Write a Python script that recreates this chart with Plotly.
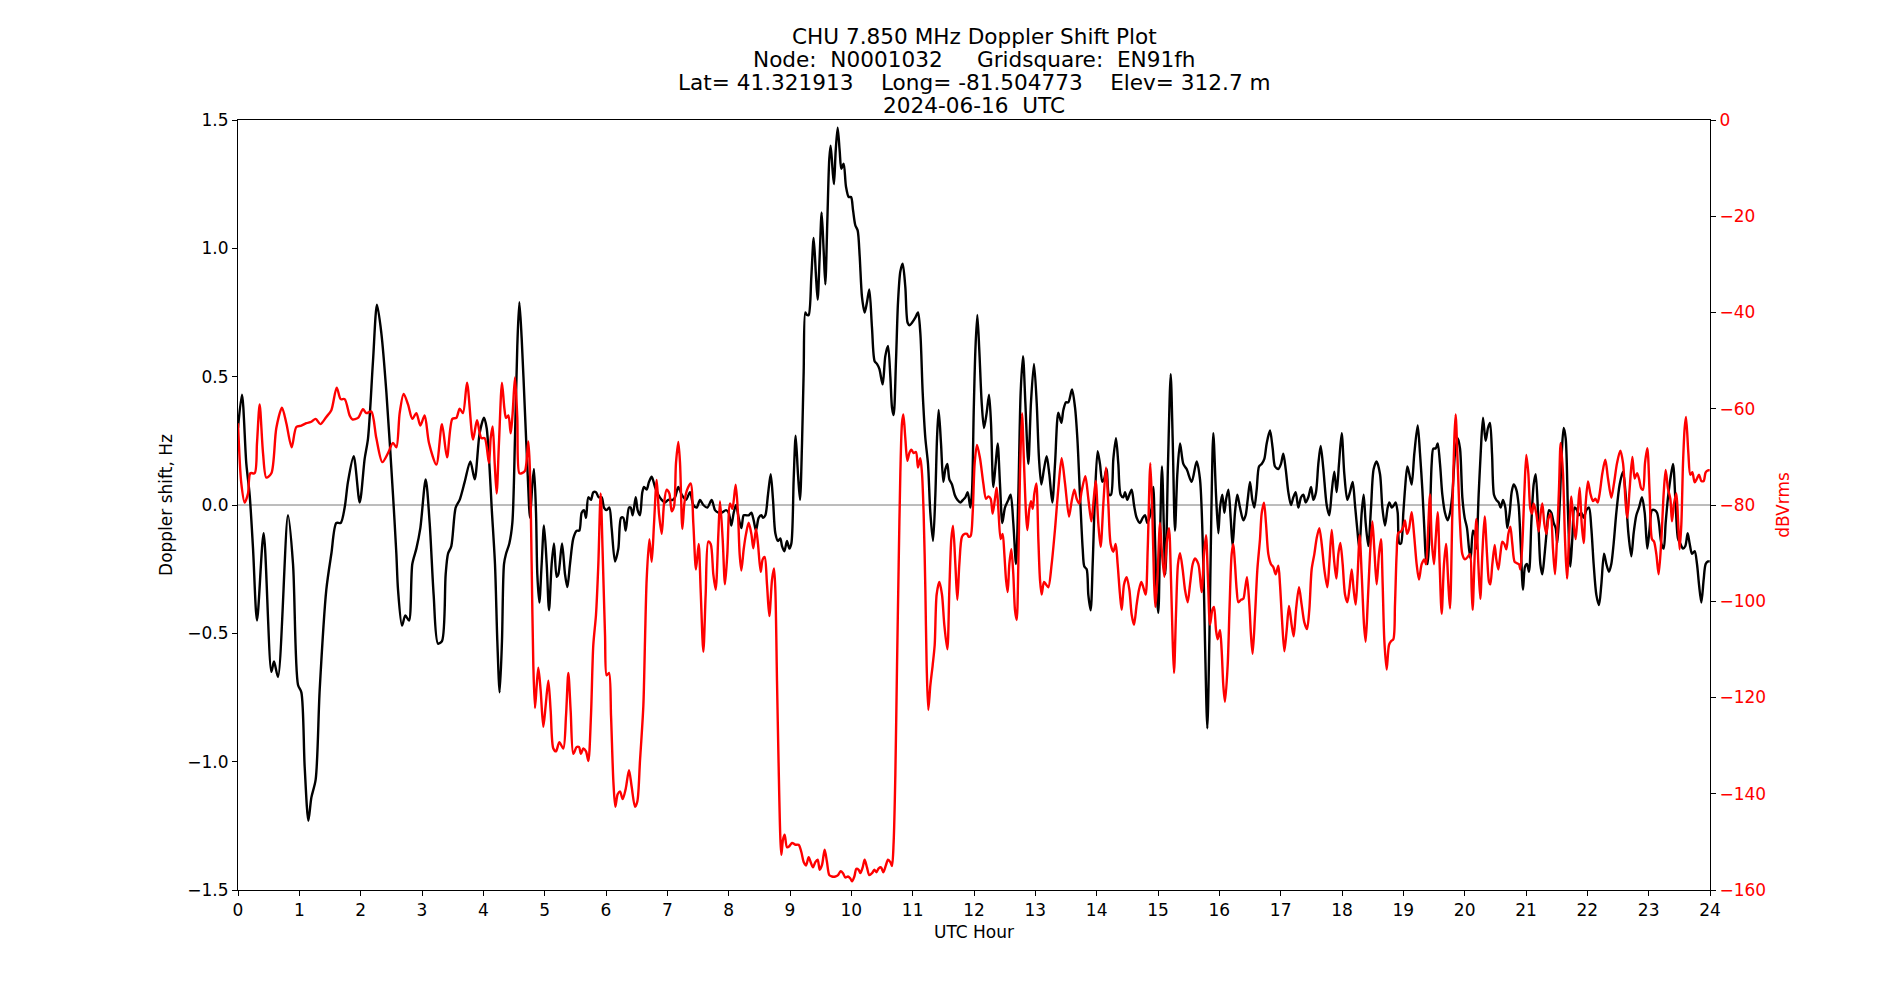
import plotly.graph_objects as go

# ---------------- data ----------------
hours_doppler = [
    0.000, 0.065, 0.136, 0.190, 0.245, 0.310, 0.418, 0.544, 0.587, 0.652,
    0.815, 0.897, 0.978, 1.033, 1.087, 1.147, 1.196, 1.266, 1.332, 1.440,
    1.522, 1.603, 1.674, 1.739, 1.793, 1.886, 1.984, 2.065, 2.120, 2.201,
    2.266, 2.337, 2.419, 2.527, 2.582, 2.609, 2.674, 2.728, 2.788, 2.842,
    2.908, 2.973, 3.060, 3.125, 3.190, 3.261, 3.326, 3.386, 3.424, 3.478,
    3.549, 3.614, 3.696, 3.788, 3.859, 3.940, 4.011, 4.054, 4.098, 4.136,
    4.190, 4.228, 4.266, 4.304, 4.337, 4.370, 4.424, 4.473, 4.516, 4.554,
    4.587, 4.625, 4.679, 4.723, 4.761, 4.799, 4.826, 4.859, 4.880, 4.913,
    4.951, 4.989, 5.033, 5.071, 5.114, 5.152, 5.196, 5.223, 5.283, 5.332,
    5.370, 5.413, 5.467, 5.522, 5.565, 5.603, 5.641, 5.674, 5.712, 5.755,
    5.793, 5.837, 5.880, 5.929, 5.967, 6.011, 6.054, 6.092, 6.147, 6.201,
    6.245, 6.283, 6.321, 6.375, 6.402, 6.435, 6.484, 6.516, 6.554, 6.592,
    6.620, 6.663, 6.701, 6.745, 6.799, 6.853, 6.908, 6.962, 7.016, 7.087,
    7.125, 7.179, 7.234, 7.304, 7.370, 7.424, 7.478, 7.533, 7.587, 7.652,
    7.723, 7.777, 7.832, 7.886, 7.957, 8.000, 8.043, 8.082, 8.120, 8.163,
    8.207, 8.245, 8.283, 8.326, 8.370, 8.408, 8.446, 8.489, 8.533, 8.560,
    8.598, 8.641, 8.685, 8.723, 8.761, 8.804, 8.842, 8.870, 8.908, 8.951,
    8.989, 9.022, 9.060, 9.092, 9.130, 9.163, 9.196, 9.223, 9.250, 9.277,
    9.304, 9.348, 9.386, 9.424, 9.451, 9.484, 9.516, 9.549, 9.576, 9.609,
    9.641, 9.663, 9.696, 9.717, 9.745, 9.777, 9.810, 9.837, 9.875, 9.913,
    9.957, 9.995, 10.027, 10.065, 10.103, 10.136, 10.174, 10.217, 10.255, 10.293,
    10.337, 10.380, 10.418, 10.457, 10.511, 10.554, 10.598, 10.636, 10.663, 10.690,
    10.728, 10.761, 10.799, 10.837, 10.880, 10.918, 10.951, 10.989, 11.043, 11.087,
    11.125, 11.163, 11.207, 11.250, 11.288, 11.332, 11.370, 11.397, 11.424, 11.462,
    11.500, 11.533, 11.565, 11.598, 11.641, 11.685, 11.728, 11.777, 11.821, 11.859,
    11.897, 11.940, 11.967, 11.995, 12.022, 12.054, 12.087, 12.125, 12.163, 12.207,
    12.245, 12.277, 12.315, 12.353, 12.386, 12.424, 12.462, 12.505, 12.560, 12.598,
    12.641, 12.685, 12.723, 12.761, 12.799, 12.837, 12.886, 12.929, 12.978, 13.022,
    13.060, 13.098, 13.141, 13.185, 13.228, 13.277, 13.321, 13.375, 13.424, 13.457,
    13.500, 13.538, 13.598, 13.647, 13.685, 13.728, 13.772, 13.799, 13.837, 13.864,
    13.902, 13.935, 13.973, 14.016, 14.054, 14.092, 14.120, 14.163, 14.201, 14.234,
    14.272, 14.315, 14.353, 14.391, 14.435, 14.462, 14.500, 14.533, 14.571, 14.609,
    14.652, 14.707, 14.750, 14.788, 14.826, 14.859, 14.897, 14.924, 14.951, 14.978,
    15.005, 15.033, 15.065, 15.120, 15.163, 15.207, 15.239, 15.277, 15.315, 15.359,
    15.413, 15.467, 15.549, 15.630, 15.685, 15.739, 15.766, 15.804, 15.837, 15.870,
    15.902, 15.946, 15.984, 16.011, 16.049, 16.082, 16.109, 16.147, 16.185, 16.217,
    16.255, 16.293, 16.337, 16.391, 16.429, 16.462, 16.500, 16.538, 16.571, 16.609,
    16.647, 16.690, 16.734, 16.772, 16.826, 16.870, 16.908, 16.962, 17.005, 17.043,
    17.082, 17.125, 17.168, 17.207, 17.245, 17.288, 17.332, 17.370, 17.408, 17.451,
    17.495, 17.533, 17.576, 17.614, 17.652, 17.696, 17.750, 17.793, 17.832, 17.875,
    17.913, 17.951, 17.995, 18.038, 18.087, 18.130, 18.174, 18.212, 18.255, 18.283,
    18.321, 18.353, 18.386, 18.429, 18.473, 18.516, 18.565, 18.620, 18.658, 18.701,
    18.745, 18.772, 18.810, 18.848, 18.875, 18.908, 18.935, 18.962, 19.000, 19.027,
    19.065, 19.098, 19.136, 19.179, 19.234, 19.272, 19.310, 19.342, 19.370, 19.397,
    19.435, 19.462, 19.489, 19.527, 19.560, 19.598, 19.636, 19.679, 19.723, 19.761,
    19.799, 19.842, 19.886, 19.924, 19.962, 20.000, 20.038, 20.071, 20.098, 20.136,
    20.163, 20.190, 20.228, 20.261, 20.299, 20.342, 20.380, 20.413, 20.446, 20.478,
    20.516, 20.554, 20.587, 20.625, 20.663, 20.696, 20.734, 20.766, 20.799, 20.842,
    20.880, 20.913, 20.951, 20.984, 21.016, 21.049, 21.087, 21.125, 21.158, 21.196,
    21.234, 21.266, 21.304, 21.342, 21.375, 21.413, 21.451, 21.484, 21.511, 21.549,
    21.582, 21.614, 21.647, 21.685, 21.723, 21.755, 21.793, 21.832, 21.864, 21.902,
    21.940, 21.984, 22.027, 22.065, 22.103, 22.147, 22.190, 22.228, 22.272, 22.310,
    22.353, 22.391, 22.429, 22.473, 22.527, 22.582, 22.625, 22.669, 22.717, 22.755,
    22.799, 22.842, 22.891, 22.935, 22.978, 23.016, 23.054, 23.098, 23.136, 23.168,
    23.207, 23.245, 23.277, 23.315, 23.353, 23.397, 23.440, 23.478, 23.516, 23.560,
    23.598, 23.636, 23.668, 23.707, 23.750, 23.788, 23.821, 23.859, 23.897, 23.929,
    23.967, 23.995,
]
doppler_hz = [
    0.30, 0.43, 0.16, 0.04, -0.17, -0.45, -0.11, -0.65, -0.61, -0.67,
    -0.04, -0.23, -0.70, -0.73, -1.02, -1.23, -1.14, -1.07, -0.72, -0.33,
    -0.19, -0.07, -0.07, -0.01, 0.09, 0.19, 0.01, 0.18, 0.26, 0.56,
    0.78, 0.67, 0.44, 0.04, -0.19, -0.33, -0.47, -0.43, -0.45, -0.23,
    -0.17, -0.09, 0.10, -0.07, -0.35, -0.54, -0.53, -0.27, -0.19, -0.16,
    -0.01, 0.02, 0.09, 0.17, 0.10, 0.28, 0.34, 0.30, 0.16, -0.01,
    -0.23, -0.53, -0.73, -0.53, -0.23, -0.19, -0.15, -0.07, 0.26, 0.62,
    0.79, 0.65, 0.36, 0.12, -0.05, 0.08, 0.14, -0.03, -0.27, -0.38,
    -0.23, -0.08, -0.23, -0.41, -0.23, -0.15, -0.28, -0.27, -0.15, -0.27,
    -0.32, -0.23, -0.13, -0.10, -0.10, -0.03, -0.02, -0.05, 0.03, 0.02,
    0.05, 0.05, 0.03, 0.03, -0.01, -0.02, -0.01, -0.09, -0.22, -0.17,
    -0.05, -0.05, -0.10, -0.01, -0.01, -0.04, 0.03, -0.02, -0.04, 0.05,
    0.07, 0.06, 0.09, 0.11, 0.07, 0.04, 0.02, 0.01, 0.02, 0.02,
    0.03, 0.07, 0.04, 0.02, 0.05, 0.00, -0.01, 0.02, 0.00, -0.01,
    0.02, -0.02, -0.03, -0.03, -0.02, -0.03, -0.08, -0.03, 0.00, -0.05,
    -0.09, -0.04, -0.04, -0.04, -0.03, -0.06, -0.10, -0.05, -0.04, -0.05,
    -0.04, 0.04, 0.12, 0.02, -0.11, -0.14, -0.13, -0.16, -0.18, -0.14,
    -0.17, -0.15, 0.10, 0.27, 0.12, 0.02, 0.24, 0.52, 0.75, 0.74,
    0.74, 0.89, 1.04, 0.89, 0.80, 0.97, 1.14, 0.99, 0.86, 1.11,
    1.35, 1.40, 1.30, 1.25, 1.38, 1.47, 1.38, 1.31, 1.33, 1.24,
    1.20, 1.20, 1.15, 1.09, 1.07, 0.97, 0.81, 0.75, 0.79, 0.84,
    0.69, 0.56, 0.55, 0.53, 0.47, 0.58, 0.62, 0.50, 0.38, 0.35,
    0.56, 0.79, 0.91, 0.94, 0.85, 0.71, 0.70, 0.71, 0.73, 0.75,
    0.67, 0.44, 0.26, 0.16, -0.03, -0.14, 0.04, 0.26, 0.37, 0.24,
    0.09, 0.14, 0.16, 0.10, 0.08, 0.04, 0.02, 0.01, 0.02, 0.03,
    0.05, -0.01, 0.05, 0.36, 0.60, 0.74, 0.60, 0.40, 0.30, 0.36,
    0.43, 0.32, 0.07, 0.16, 0.24, 0.08, -0.07, -0.01, 0.02, 0.04,
    -0.07, -0.23, 0.04, 0.44, 0.58, 0.40, 0.16, 0.40, 0.55, 0.40,
    0.18, 0.08, 0.14, 0.19, 0.12, 0.01, 0.16, 0.36, 0.32, 0.37,
    0.40, 0.40, 0.45, 0.38, 0.26, 0.04, -0.17, -0.24, -0.25, -0.35,
    -0.41, -0.23, 0.04, 0.21, 0.16, 0.09, 0.10, 0.14, 0.04, 0.04,
    0.18, 0.26, 0.16, 0.04, 0.03, 0.05, 0.02, 0.04, 0.06, 0.00,
    -0.05, -0.07, -0.05, -0.04, -0.07, -0.05, -0.01, 0.07, -0.13, -0.35,
    -0.42, -0.13, 0.15, -0.27, 0.16, 0.51, 0.26, -0.10, 0.12, 0.24,
    0.16, 0.14, 0.09, 0.17, 0.10, -0.23, -0.53, -0.87, -0.53, -0.03,
    0.28, 0.04, -0.11, -0.01, 0.04, -0.03, 0.02, 0.06, -0.05, -0.16,
    -0.03, 0.04, -0.01, -0.06, -0.04, 0.02, 0.09, 0.02, -0.01, 0.06,
    0.15, 0.16, 0.18, 0.24, 0.29, 0.22, 0.15, 0.14, 0.16, 0.20,
    0.14, 0.05, 0.00, 0.03, 0.05, -0.01, 0.03, 0.04, 0.01, 0.03,
    0.07, 0.02, 0.05, 0.16, 0.23, 0.14, 0.00, -0.04, 0.05, 0.13,
    0.05, 0.16, 0.28, 0.12, 0.02, 0.05, 0.09, 0.00, -0.11, -0.17,
    -0.03, 0.04, -0.07, -0.16, -0.01, 0.14, 0.17, 0.12, -0.01, -0.08,
    -0.01, 0.01, -0.01, 0.00, 0.01, -0.03, -0.15, -0.15, -0.03, 0.06,
    0.15, 0.12, 0.08, 0.20, 0.31, 0.20, 0.06, -0.09, -0.21, -0.23,
    -0.03, 0.16, 0.22, 0.22, 0.24, 0.16, 0.04, -0.03, -0.06, -0.03,
    0.04, 0.20, 0.26, 0.22, 0.03, -0.05, -0.09, -0.17, -0.21, -0.10,
    -0.11, -0.17, 0.04, 0.20, 0.34, 0.25, 0.30, 0.32, 0.20, 0.04,
    0.02, 0.01, -0.01, 0.02, -0.01, -0.09, -0.03, 0.05, 0.08, 0.06,
    0.00, -0.15, -0.33, -0.24, -0.23, -0.26, -0.07, 0.08, 0.12, -0.03,
    -0.23, -0.27, -0.19, -0.09, -0.02, -0.03, -0.07, -0.09, -0.15, 0.00,
    0.20, 0.30, 0.26, -0.03, -0.24, -0.13, -0.01, -0.02, -0.04, -0.03,
    -0.05, -0.02, -0.01, -0.09, -0.23, -0.35, -0.39, -0.31, -0.19, -0.23,
    -0.26, -0.23, -0.15, -0.03, 0.08, 0.13, 0.04, -0.11, -0.20, -0.11,
    -0.04, -0.01, 0.03, -0.03, -0.17, -0.09, -0.02, -0.02, -0.03, -0.07,
    -0.15, -0.17, -0.07, 0.03, 0.10, 0.16, 0.00, -0.13, -0.15, -0.17,
    -0.16, -0.11, -0.15, -0.19, -0.18, -0.23, -0.31, -0.38, -0.29, -0.23,
    -0.22, -0.22,
]

hours_power = [
    0.000, 0.054, 0.109, 0.163, 0.201, 0.272, 0.310, 0.353, 0.408, 0.462,
    0.544, 0.625, 0.717, 0.788, 0.875, 0.951, 1.033, 1.114, 1.196, 1.266,
    1.342, 1.440, 1.522, 1.609, 1.674, 1.739, 1.821, 1.864, 1.957, 2.038,
    2.092, 2.174, 2.255, 2.353, 2.446, 2.527, 2.582, 2.636, 2.701, 2.772,
    2.842, 2.908, 2.973, 3.043, 3.114, 3.234, 3.326, 3.408, 3.495, 3.560,
    3.614, 3.668, 3.734, 3.832, 3.897, 3.967, 4.022, 4.092, 4.120, 4.152,
    4.185, 4.217, 4.255, 4.304, 4.342, 4.370, 4.408, 4.446, 4.478, 4.516,
    4.554, 4.587, 4.625, 4.679, 4.734, 4.761, 4.788, 4.815, 4.842, 4.870,
    4.897, 4.935, 4.978, 5.016, 5.060, 5.098, 5.141, 5.185, 5.239, 5.304,
    5.348, 5.386, 5.424, 5.467, 5.522, 5.560, 5.592, 5.630, 5.674, 5.712,
    5.755, 5.793, 5.837, 5.875, 5.913, 5.946, 5.984, 6.011, 6.049, 6.082,
    6.120, 6.152, 6.190, 6.228, 6.272, 6.321, 6.375, 6.418, 6.473, 6.511,
    6.554, 6.609, 6.636, 6.663, 6.707, 6.745, 6.783, 6.826, 6.864, 6.908,
    6.946, 6.989, 7.033, 7.071, 7.109, 7.141, 7.179, 7.207, 7.245, 7.277,
    7.315, 7.380, 7.424, 7.467, 7.511, 7.543, 7.587, 7.625, 7.668, 7.707,
    7.750, 7.788, 7.832, 7.859, 7.902, 7.940, 7.978, 8.022, 8.060, 8.114,
    8.152, 8.179, 8.207, 8.245, 8.283, 8.326, 8.370, 8.402, 8.446, 8.478,
    8.522, 8.554, 8.587, 8.625, 8.663, 8.707, 8.739, 8.761, 8.788, 8.815,
    8.842, 8.859, 8.886, 8.913, 8.951, 8.989, 9.033, 9.087, 9.141, 9.185,
    9.223, 9.261, 9.304, 9.342, 9.375, 9.413, 9.451, 9.484, 9.522, 9.565,
    9.603, 9.641, 9.685, 9.739, 9.783, 9.826, 9.864, 9.902, 9.946, 9.984,
    10.011, 10.049, 10.082, 10.120, 10.147, 10.185, 10.217, 10.255, 10.293, 10.337,
    10.375, 10.408, 10.446, 10.484, 10.522, 10.565, 10.598, 10.636, 10.663, 10.690,
    10.717, 10.745, 10.772, 10.799, 10.826, 10.848, 10.880, 10.913, 10.946, 10.978,
    11.016, 11.054, 11.087, 11.125, 11.152, 11.179, 11.207, 11.228, 11.255, 11.288,
    11.326, 11.359, 11.391, 11.435, 11.478, 11.516, 11.565, 11.598, 11.630, 11.658,
    11.696, 11.728, 11.761, 11.804, 11.848, 11.886, 11.913, 11.946, 11.978, 12.011,
    12.049, 12.098, 12.152, 12.196, 12.234, 12.272, 12.304, 12.342, 12.370, 12.397,
    12.435, 12.467, 12.495, 12.522, 12.549, 12.576, 12.609, 12.641, 12.668, 12.696,
    12.723, 12.750, 12.783, 12.815, 12.848, 12.870, 12.902, 12.929, 12.957, 12.984,
    13.016, 13.049, 13.076, 13.103, 13.141, 13.174, 13.212, 13.266, 13.321, 13.375,
    13.429, 13.484, 13.549, 13.592, 13.636, 13.674, 13.717, 13.755, 13.815, 13.864,
    13.913, 13.946, 13.984, 14.027, 14.065, 14.109, 14.152, 14.190, 14.228, 14.272,
    14.310, 14.342, 14.380, 14.408, 14.446, 14.489, 14.533, 14.571, 14.609, 14.652,
    14.690, 14.728, 14.761, 14.799, 14.832, 14.875, 14.908, 14.935, 14.957, 14.989,
    15.033, 15.060, 15.103, 15.141, 15.179, 15.212, 15.239, 15.261, 15.293, 15.326,
    15.359, 15.402, 15.440, 15.484, 15.522, 15.565, 15.603, 15.658, 15.712, 15.750,
    15.783, 15.815, 15.848, 15.886, 15.913, 15.946, 15.973, 16.011, 16.038, 16.065,
    16.092, 16.136, 16.168, 16.201, 16.228, 16.255, 16.283, 16.310, 16.353, 16.391,
    16.418, 16.451, 16.489, 16.516, 16.543, 16.582, 16.620, 16.663, 16.690, 16.728,
    16.761, 16.799, 16.842, 16.880, 16.918, 16.962, 16.989, 17.022, 17.060, 17.098,
    17.136, 17.179, 17.212, 17.250, 17.299, 17.342, 17.386, 17.429, 17.467, 17.505,
    17.549, 17.587, 17.630, 17.669, 17.712, 17.761, 17.793, 17.832, 17.870, 17.908,
    17.940, 17.973, 18.011, 18.049, 18.087, 18.120, 18.158, 18.190, 18.223, 18.255,
    18.288, 18.321, 18.359, 18.386, 18.418, 18.457, 18.495, 18.527, 18.565, 18.603,
    18.636, 18.663, 18.690, 18.728, 18.766, 18.799, 18.837, 18.864, 18.891, 18.918,
    18.962, 19.000, 19.027, 19.060, 19.092, 19.136, 19.174, 19.217, 19.255, 19.299,
    19.342, 19.370, 19.397, 19.435, 19.462, 19.500, 19.527, 19.560, 19.592, 19.625,
    19.663, 19.696, 19.734, 19.761, 19.799, 19.832, 19.853, 19.886, 19.924, 19.962,
    20.005, 20.049, 20.087, 20.114, 20.130, 20.158, 20.190, 20.223, 20.255, 20.288,
    20.326, 20.364, 20.397, 20.418, 20.451, 20.489, 20.516, 20.549, 20.582, 20.614,
    20.647, 20.679, 20.712, 20.745, 20.777, 20.815, 20.853, 20.886, 20.908, 20.940,
    20.973, 21.005, 21.038, 21.071, 21.098, 21.125, 21.168, 21.207, 21.239, 21.266,
    21.299, 21.332, 21.364, 21.402, 21.440, 21.473, 21.505, 21.538, 21.565, 21.603,
    21.636, 21.668, 21.701, 21.739, 21.777, 21.810, 21.848, 21.875, 21.908, 21.940,
    21.973, 22.011, 22.049, 22.092, 22.130, 22.168, 22.201, 22.245, 22.293, 22.337,
    22.391, 22.435, 22.484, 22.538, 22.582, 22.625, 22.652, 22.690, 22.734, 22.772,
    22.810, 22.842, 22.880, 22.908, 22.940, 22.978, 23.016, 23.054, 23.087, 23.125,
    23.163, 23.207, 23.245, 23.277, 23.315, 23.353, 23.380, 23.413, 23.451, 23.478,
    23.505, 23.533, 23.560, 23.587, 23.609, 23.647, 23.679, 23.712, 23.750, 23.788,
    23.821, 23.859, 23.897, 23.929, 23.967, 23.995,
]
power_dbvrms = [
    -63.0, -75.5, -79.5, -77.6, -73.4, -73.4, -67.1, -59.1, -69.2, -74.3,
    -73.4, -64.0, -59.8, -63.0, -68.0, -63.8, -63.5, -63.0, -62.7, -62.1,
    -63.2, -61.7, -60.3, -55.6, -58.0, -58.0, -61.4, -62.2, -61.9, -60.1,
    -60.9, -60.6, -66.1, -71.1, -69.2, -67.1, -68.0, -60.9, -56.9, -59.1,
    -62.1, -60.9, -63.5, -61.4, -67.1, -71.6, -63.2, -70.1, -62.1, -61.9,
    -60.0, -60.9, -54.6, -66.4, -62.4, -66.1, -66.1, -71.3, -66.1, -63.7,
    -71.3, -77.6, -67.1, -54.6, -59.8, -61.9, -61.4, -65.1, -60.9, -53.5,
    -61.9, -73.4, -73.4, -72.9, -66.8, -73.4, -92.3, -113.3, -122.2, -117.5,
    -113.8, -118.6, -126.1, -121.7, -116.5, -122.8, -130.6, -131.2, -129.3, -130.6,
    -123.8, -114.9, -122.8, -131.7, -130.3, -130.3, -131.7, -130.6, -131.2, -133.2,
    -123.8, -109.1, -102.8, -92.3, -77.6, -90.2, -107.0, -115.4, -114.9, -123.8,
    -137.4, -142.7, -140.1, -139.5, -141.1, -139.0, -135.1, -138.5, -142.7, -141.6,
    -133.2, -121.7, -108.1, -95.5, -87.1, -91.8, -83.9, -74.8, -81.8, -86.0,
    -79.7, -76.8, -77.6, -81.3, -80.3, -71.3, -66.9, -71.3, -85.0, -79.7,
    -77.1, -75.5, -83.9, -93.4, -88.1, -97.6, -110.5, -98.6, -87.6, -88.1,
    -94.4, -97.6, -86.0, -79.2, -87.1, -96.5, -90.2, -79.7, -80.8, -75.8,
    -81.8, -90.2, -93.6, -89.2, -86.0, -83.7, -86.0, -89.0, -85.0, -88.1,
    -93.9, -91.3, -90.8, -96.5, -103.1, -95.5, -93.2, -97.6, -116.5, -134.3,
    -149.0, -152.7, -149.5, -148.5, -151.1, -150.9, -150.2, -150.6, -150.6, -152.1,
    -154.2, -154.9, -153.2, -154.4, -155.3, -154.2, -153.7, -155.8, -154.8, -151.6,
    -154.2, -156.9, -157.2, -157.2, -156.9, -156.1, -156.5, -157.4, -157.2, -157.6,
    -158.2, -157.2, -155.6, -155.8, -156.5, -155.3, -153.7, -155.3, -156.9, -156.5,
    -155.8, -156.3, -155.5, -155.3, -156.3, -154.8, -153.7, -154.2, -155.0, -150.0,
    -136.4, -113.3, -92.3, -73.4, -63.0, -61.2, -66.1, -70.8, -69.2, -68.5,
    -69.2, -69.0, -72.2, -70.3, -73.4, -81.8, -97.6, -113.3, -122.6, -117.5,
    -113.3, -109.1, -98.6, -96.0, -98.6, -104.9, -110.0, -97.6, -87.1, -84.3,
    -92.3, -99.7, -92.3, -86.6, -86.0, -86.0, -86.6, -86.4, -81.8, -71.3,
    -67.5, -70.3, -75.5, -78.7, -78.2, -78.7, -81.8, -78.7, -76.4, -80.8,
    -87.1, -86.0, -90.2, -95.5, -98.1, -92.3, -89.2, -94.4, -101.8, -103.9,
    -92.3, -73.4, -60.9, -71.3, -81.8, -85.2, -80.8, -79.2, -80.8, -77.6,
    -75.5, -87.1, -95.5, -98.6, -96.0, -96.5, -97.1, -92.3, -85.0, -76.6,
    -70.3, -75.5, -82.4, -79.2, -76.8, -78.7, -79.7, -77.1, -74.0, -78.7,
    -83.4, -79.7, -75.0, -83.9, -88.7, -79.7, -72.2, -79.7, -88.1, -89.7,
    -88.1, -92.3, -98.6, -101.8, -96.5, -95.0, -97.6, -102.8, -104.9, -100.7,
    -97.6, -96.0, -97.1, -98.6, -89.2, -71.3, -81.8, -95.5, -101.2, -95.5,
    -83.7, -89.2, -94.9, -88.1, -84.8, -95.5, -108.1, -114.9, -102.8, -92.3,
    -90.0, -93.4, -97.6, -100.2, -96.5, -92.3, -91.1, -92.3, -98.1, -90.2,
    -86.3, -95.5, -104.9, -101.8, -101.2, -106.0, -107.9, -106.0, -110.2, -117.5,
    -120.9, -113.3, -100.7, -90.2, -88.1, -92.3, -97.6, -100.2, -99.7, -99.5,
    -97.6, -95.0, -100.7, -107.0, -110.9, -102.8, -93.4, -87.1, -81.8, -79.5,
    -83.9, -90.2, -92.3, -92.9, -94.4, -92.6, -96.5, -103.9, -110.4, -106.0,
    -101.0, -104.9, -107.3, -101.8, -97.1, -100.7, -104.4, -105.8, -101.8, -93.4,
    -90.2, -86.9, -84.8, -88.1, -93.4, -97.1, -92.3, -85.2, -91.3, -95.3,
    -90.2, -87.9, -92.3, -98.6, -100.2, -97.6, -93.4, -97.6, -100.7, -94.4,
    -86.3, -94.4, -104.9, -108.4, -100.7, -90.2, -83.4, -89.2, -96.5, -90.2,
    -87.1, -96.5, -108.1, -114.2, -109.1, -108.3, -107.9, -100.7, -90.2, -85.8,
    -85.5, -84.5, -83.2, -86.0, -85.0, -81.5, -86.0, -92.3, -95.5, -92.3,
    -91.3, -92.3, -87.1, -77.8, -87.1, -92.3, -87.1, -81.5, -92.3, -102.6,
    -92.3, -88.1, -96.5, -101.5, -81.8, -66.1, -61.2, -71.3, -83.9, -90.2,
    -91.3, -90.8, -90.2, -97.6, -101.8, -92.3, -82.9, -92.3, -99.5, -90.2,
    -82.4, -90.2, -96.0, -96.5, -92.3, -88.3, -91.3, -93.4, -90.2, -87.6,
    -88.1, -89.2, -86.0, -84.5, -88.1, -91.8, -92.1, -92.3, -93.4, -88.1,
    -77.6, -69.6, -73.4, -80.8, -81.8, -79.7, -81.8, -85.5, -81.8, -79.7,
    -83.9, -86.0, -82.9, -81.8, -89.2, -94.4, -87.1, -76.6, -67.1, -73.4,
    -87.1, -95.3, -87.1, -78.2, -83.9, -87.1, -80.8, -76.4, -83.9, -87.9,
    -79.7, -75.1, -77.6, -79.2, -78.7, -79.5, -77.6, -73.4, -70.6, -74.5,
    -78.5, -75.5, -71.3, -68.7, -71.3, -79.7, -82.7, -76.6, -70.0, -74.5,
    -73.4, -74.5, -76.6, -76.8, -71.3, -68.2, -77.6, -87.1, -87.6, -90.2,
    -94.4, -87.1, -77.6, -72.7, -76.6, -78.7, -83.4, -79.7, -77.6, -82.9,
    -89.2, -83.9, -71.3, -64.0, -61.7, -69.2, -73.7, -73.2, -75.3, -74.5,
    -73.7, -75.0, -75.0, -73.2, -72.8, -72.8,
]

x_tick_values = list(range(0, 25))
title_lines = [
    "CHU 7.850 MHz Doppler Shift Plot",
    "Node:\u00a0\u00a0N0001032\u00a0\u00a0\u00a0\u00a0\u00a0Gridsquare:\u00a0\u00a0EN91fh",
    "Lat=\u00a041.321913\u00a0\u00a0\u00a0\u00a0Long=\u00a0-81.504773\u00a0\u00a0\u00a0\u00a0Elev=\u00a0312.7\u00a0m",
    "2024-06-16\u00a0\u00a0UTC",
]
x_label = "UTC Hour"
y_label = "Doppler shift, Hz"
y2_label = "dBVrms"

# ---------------- figure ----------------
FONT = "DejaVu Sans"
fig = go.Figure()

fig.add_shape(type="line", xref="x", yref="y", x0=0, x1=24, y0=0, y1=0,
              line=dict(color="#7a7a7a", width=1), layer="below")

fig.add_trace(go.Scatter(
    x=hours_doppler, y=doppler_hz, mode="lines", yaxis="y",
    line=dict(color="black", width=2.4, shape="spline", smoothing=0.8),
    showlegend=False, hoverinfo="skip"))
fig.add_trace(go.Scatter(
    x=hours_power, y=power_dbvrms, mode="lines", yaxis="y2",
    line=dict(color="#ff0000", width=2.4, shape="spline", smoothing=0.8),
    showlegend=False, hoverinfo="skip"))

title_y = [1.1078, 1.0783, 1.0488, 1.0190]
for txt, yy in zip(title_lines, title_y):
    fig.add_annotation(text=txt, xref="paper", yref="paper", x=0.5, y=yy,
                       xanchor="center", yanchor="middle", showarrow=False,
                       font=dict(family=FONT, size=21.6, color="black"))

fig.update_layout(
    width=1900, height=1000,
    margin=dict(l=237.5, r=190, t=120, b=110),
    paper_bgcolor="white", plot_bgcolor="white",
    font=dict(family=FONT, size=17, color="black"),
    xaxis=dict(
        range=[0, 24], tickmode="array", tickvals=x_tick_values,
        ticks="outside", ticklen=5, tickwidth=1, tickcolor="black",
        showline=True, linecolor="black", linewidth=1, mirror=True,
        showgrid=False, zeroline=False,
        tickfont=dict(family=FONT, size=17, color="black"),
        title=dict(text=x_label, font=dict(family=FONT, size=17), standoff=6),
    ),
    yaxis=dict(
        range=[-1.5, 1.5], tickmode="linear", tick0=-1.5, dtick=0.5,
        tickformat=".1f", ticks="outside", ticklen=5, tickwidth=1,
        tickcolor="black", showline=True, linecolor="black", linewidth=1,
        showgrid=False, zeroline=False,
        tickfont=dict(family=FONT, size=17, color="black"),
        title=dict(text=y_label, font=dict(family=FONT, size=17), standoff=10),
    ),
    yaxis2=dict(
        range=[-160, 0], tickmode="linear", tick0=-160, dtick=20,
        overlaying="y", side="right", anchor="x",
        ticks="outside", ticklen=5, tickwidth=1, tickcolor="black",
        showline=True, linecolor="black", linewidth=1,
        showgrid=False, zeroline=False,
        tickfont=dict(family=FONT, size=17, color="#ff0000"),
        title=dict(text=y2_label, font=dict(family=FONT, size=17, color="#ff0000"), standoff=11),
    ),
)

fig.write_html("out.html", config={"displayModeBar": False})
